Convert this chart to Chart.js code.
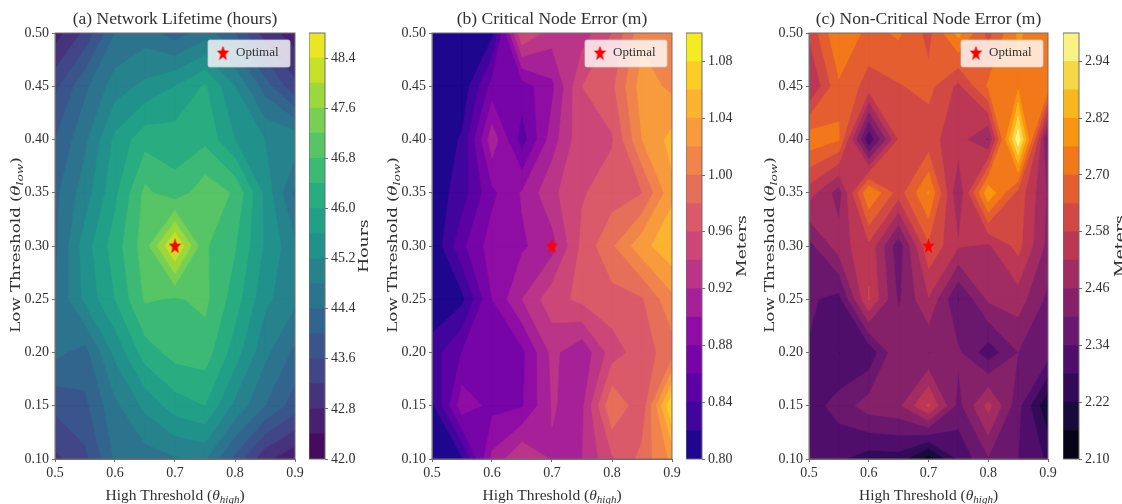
<!DOCTYPE html>
<html>
<head>
<meta charset="utf-8">
<title>Threshold sensitivity</title>
<script src="https://cdn.jsdelivr.net/npm/chart.js@4/dist/chart.umd.min.js"></script>
<style>
  html, body { margin: 0; padding: 0; background: #fff; }
  #page { position: relative; width: 1122px; height: 504px; overflow: hidden; }
  canvas { position: absolute; top: 0; filter: blur(0.5px); }
</style>
</head>
<body>
<div id="page"></div>
<script>
// ---------- Data ----------
const thresholdHigh = [0.5, 0.55, 0.6, 0.65, 0.7, 0.75, 0.8, 0.85, 0.9];
const thresholdLow = [0.5, 0.45, 0.4, 0.35, 0.3, 0.25, 0.2, 0.15, 0.1];

const lifetimeHours = [
  [42.6, 43.3, 44.4, 44.6, 44.2, 44.6, 44.0, 43.0, 42.6],
  [43.5, 44.3, 45.0, 45.3, 45.6, 46.05, 45.2, 44.2, 43.3],
  [44.0, 44.7, 45.7, 46.25, 46.2, 46.3, 45.6, 45.2, 45.1],
  [44.3, 45.0, 45.9, 46.9, 46.55, 47.05, 46.75, 45.5, 44.3],
  [44.3, 45.4, 46.2, 47.0, 48.5, 46.85, 46.43, 45.55, 44.9],
  [44.4, 45.3, 46.0, 46.85, 46.75, 46.9, 46.2, 45.3, 44.9],
  [44.5, 44.25, 45.3, 46.2, 46.55, 46.6, 45.8, 44.9, 44.3],
  [43.7, 43.9, 44.7, 45.3, 45.8, 46.0, 45.1, 44.4, 43.8],
  [43.1, 43.5, 44.45, 44.6, 44.75, 44.85, 43.9, 42.9, 42.5]
];
const criticalError = [
  [0.803, 0.805, 0.815, 0.96, 0.93, 0.93, 0.96, 1.015, 1.01],
  [0.801, 0.805, 0.868, 0.87, 0.895, 0.96, 0.975, 1.03, 1.015],
  [0.801, 0.823, 0.913, 0.85, 0.91, 0.955, 0.958, 1.02, 1.047],
  [0.807, 0.83, 0.875, 0.902, 0.935, 0.958, 0.97, 0.979, 1.035],
  [0.802, 0.855, 0.89, 0.897, 0.912, 0.965, 0.997, 1.033, 1.055],
  [0.802, 0.815, 0.88, 0.92, 0.952, 0.965, 0.972, 0.978, 1.015],
  [0.83, 0.861, 0.86, 0.875, 0.925, 0.905, 0.95, 0.971, 0.99],
  [0.815, 0.892, 0.874, 0.878, 0.921, 0.915, 0.998, 0.965, 1.08],
  [0.805, 0.818, 0.905, 0.94, 0.9185, 0.92, 0.957, 0.987, 1.025]
];
const nonCriticalError = [
  [2.59, 2.76, 2.68, 2.71, 2.62, 2.78, 2.62, 2.77, 2.71],
  [2.51, 2.69, 2.615, 2.635, 2.66, 2.565, 2.71, 2.745, 2.74],
  [2.74, 2.705, 2.285, 2.585, 2.60, 2.547, 2.45, 2.985, 2.37],
  [2.55, 2.43, 2.762, 2.61, 2.765, 2.465, 2.81, 2.62, 2.45],
  [2.38, 2.49, 2.565, 2.36, 2.63, 2.525, 2.51, 2.60, 2.44],
  [2.35, 2.32, 2.585, 2.39, 2.515, 2.335, 2.47, 2.49, 2.385],
  [2.335, 2.279, 2.295, 2.455, 2.399, 2.41, 2.305, 2.40, 2.37],
  [2.31, 2.365, 2.43, 2.445, 2.59, 2.38, 2.54, 2.36, 2.17],
  [2.345, 2.29, 2.25, 2.255, 2.13, 2.29, 2.395, 2.34, 2.27]
];

const lifetimeLevels = [42.0, 42.4, 42.8, 43.2, 43.6, 44.0, 44.4, 44.8, 45.2, 45.6, 46.0, 46.4, 46.8, 47.2, 47.6, 48.0, 48.4, 48.8];
const criticalLevels = [0.80, 0.82, 0.84, 0.86, 0.88, 0.90, 0.92, 0.94, 0.96, 0.98, 1.00, 1.02, 1.04, 1.06, 1.08, 1.10];
const nonCriticalLevels = [2.10, 2.16, 2.22, 2.28, 2.34, 2.40, 2.46, 2.52, 2.58, 2.64, 2.70, 2.76, 2.82, 2.88, 2.94, 3.00];

const lifetimeTicks = [42.0, 42.8, 43.6, 44.4, 45.2, 46.0, 46.8, 47.6, 48.4];
const criticalTicks = [0.80, 0.84, 0.88, 0.92, 0.96, 1.00, 1.04, 1.08];
const nonCriticalTicks = [2.10, 2.22, 2.34, 2.46, 2.58, 2.70, 2.82, 2.94];

const xTicks = [0.5, 0.6, 0.7, 0.8, 0.9];
const yTicks = [0.1, 0.15, 0.2, 0.25, 0.3, 0.35, 0.4, 0.45, 0.5];
const optimalHigh = [0.7];
const optimalLow = [0.3];

// ---------- Colormaps (11 stops each) ----------
const viridis = ["#440154", "#482475", "#414487", "#355f8d", "#2a788e", "#21918c", "#22a884", "#44bf70", "#7ad151", "#bddf26", "#fde725"];
const plasma = ["#0d0887", "#41049d", "#6a00a8", "#8f0da4", "#b12a90", "#cc4778", "#e16462", "#f1844b", "#fca636", "#fcce25", "#f0f921"];
const inferno = ["#000004", "#160b39", "#420a68", "#6a176e", "#932667", "#bc3754", "#dd513a", "#f37819", "#fca50a", "#f6d746", "#fcffa4"];

function sampleMap(stops, t) {
  const p = Math.min(t, 0.9999) * (stops.length - 1);
  const i = Math.floor(p), f = p - i;
  const rgb = (h) => [1, 3, 5].map(k => parseInt(h.substr(k, 2), 16));
  const a = rgb(stops[i]), b = rgb(stops[i + 1]);
  return `rgb(${a.map((v, k) => Math.round(v + (b[k] - v) * f)).join(",")})`;
}
function bandColors(stops, levels) {
  const n = levels.length - 1;
  return levels.slice(0, n).map((_, k) => sampleMap(stops, (k + 0.5) / n));
}

// ---------- Fonts ----------
const SERIF = "'Liberation Serif'";
const WIDE = "'DejaVu Serif'";
const INK = "#303030";
const SPINE = "#6f6f6f";

// ---------- Star marker ----------
function makeStar(w, h) {
  const c = document.createElement("canvas");
  c.width = w; c.height = h;
  const ctx = c.getContext("2d");
  ctx.fillStyle = "#ff0000";
  ctx.beginPath();
  for (let i = 0; i < 10; i++) {
    const r = i % 2 ? 0.42 : 1;
    const a = -Math.PI / 2 + i * Math.PI / 5;
    const px = w / 2 + Math.cos(a) * r * w / 2;
    const py = h * 0.53 + Math.sin(a) * r * h * 0.53;
    if (i === 0) ctx.moveTo(px, py); else ctx.lineTo(px, py);
  }
  ctx.closePath();
  ctx.fill();
  return c;
}

// ---------- Filled contours, one region z >= level at a time ----------
function addRegion(ctx, chart, z, level) {
  const sx = chart.scales.x, sy = chart.scales.y;
  const poly = (pts) => {
    pts.forEach((p, i) => {
      const px = sx.getPixelForValue(p[0]), py = sy.getPixelForValue(p[1]);
      if (i === 0) ctx.moveTo(px, py); else ctx.lineTo(px, py);
    });
    ctx.closePath();
  };
  for (let r = 0; r < thresholdLow.length - 1; r++) {
    for (let c = 0; c < thresholdHigh.length - 1; c++) {
      const q = [[c, r], [c + 1, r], [c + 1, r + 1], [c, r + 1]].map(([i, j]) => ({
        x: thresholdHigh[i], y: thresholdLow[j], v: z[j][i]
      }));
      const high = q.map(p => p.v >= level);
      const count = high.filter(Boolean).length;
      if (count === 0) continue;
      const cross = (a, b) => {
        const t = (level - a.v) / (b.v - a.v);
        return [a.x + (b.x - a.x) * t, a.y + (b.y - a.y) * t];
      };
      const mid = (q[0].v + q[1].v + q[2].v + q[3].v) / 4;
      const saddle = count === 2 && high[0] === high[2];
      if (saddle && mid < level) {
        // two separate corners
        q.forEach((p, k) => {
          if (!high[k]) return;
          poly([cross(q[(k + 3) % 4], p), [p.x, p.y], cross(p, q[(k + 1) % 4])]);
        });
        continue;
      }
      const pts = [];
      q.forEach((p, k) => {
        const next = q[(k + 1) % 4];
        if (high[k]) pts.push([p.x, p.y]);
        if (high[k] !== high[(k + 1) % 4]) pts.push(cross(p, next));
      });
      poly(pts);
    }
  }
}

// ---------- Small text helper (math subscripts), stretch along the text ----------
function drawParts(ctx, parts, cx, cy, rotation, stretch) {
  ctx.save();
  ctx.translate(cx, cy);
  ctx.rotate(rotation || 0);
  ctx.scale(stretch || 1, 1);
  ctx.fillStyle = INK;
  ctx.textBaseline = "alphabetic";
  ctx.textAlign = "left";
  let total = 0;
  parts.forEach(p => { ctx.font = p.font; total += ctx.measureText(p.text).width; });
  let x = -total / 2;
  parts.forEach(p => {
    ctx.font = p.font;
    ctx.fillText(p.text, x, p.dy || 0);
    x += ctx.measureText(p.text).width;
  });
  ctx.restore();
}

function addCanvas(left, width) {
  const c = document.createElement("canvas");
  c.width = width; c.height = 504;
  c.style.left = left + "px";
  c.style.width = width + "px";
  c.style.height = "504px";
  document.getElementById("page").appendChild(c);
  return c;
}

const axisFont = { family: SERIF, size: 14 };

// ---------- Main contour panel ----------
function renderPanel(title, z, levels, stops, plotLeft, plotWidth) {
  const colors = bandColors(stops, levels);
  const star = makeStar(13, 16);
  const canvas = addCanvas(plotLeft - 55, 55 + plotWidth + 12);

  const contourPlugin = {
    id: "contours",
    afterLayout(chart) {
      const a = chart.chartArea;
      chart.legend.left = a.right - 78.5;
      chart.legend.top = a.top + 13.5;
      chart.titleBlock.left = a.left;
      chart.titleBlock.right = a.right;
    },
    beforeDraw(chart) {
      const ctx = chart.ctx, a = chart.chartArea;
      ctx.save();
      ctx.beginPath();
      ctx.rect(a.left, a.top, a.width, a.height);
      ctx.clip();
      ctx.lineWidth = 0.5;
      ctx.lineJoin = "round";
      colors.forEach((col, k) => {
        ctx.beginPath();
        addRegion(ctx, chart, z, levels[k]);
        ctx.fillStyle = col;
        ctx.strokeStyle = col;
        ctx.fill();
        ctx.stroke();
      });
      // legend frame
      ctx.beginPath();
      ctx.roundRect(a.right - 87, a.top + 7, 82, 27, 2);
      ctx.fillStyle = "rgba(255,255,255,0.8)";
      ctx.fill();
      ctx.strokeStyle = "rgba(204,204,204,0.8)";
      ctx.lineWidth = 1;
      ctx.stroke();
      ctx.restore();
    },
    afterDraw(chart) {
      const ctx = chart.ctx, a = chart.chartArea;
      ctx.strokeStyle = SPINE;
      ctx.lineWidth = 1;
      ctx.strokeRect(a.left, a.top, a.width, a.height);
      const cx = (a.left + a.right) / 2;
      drawParts(ctx, [
        { text: "High Threshold (", font: `15.5px ${SERIF}` },
        { text: "θ", font: `italic 15.5px ${SERIF}` },
        { text: "high", font: `italic 11px ${SERIF}`, dy: 3 },
        { text: ")", font: `15.5px ${SERIF}` }
      ], cx, 500);
      drawParts(ctx, [
        { text: "Low Threshold (", font: `13px ${WIDE}` },
        { text: "θ", font: `italic 13px ${WIDE}` },
        { text: "low", font: `italic 9.5px ${WIDE}`, dy: 3 },
        { text: ")", font: `13px ${WIDE}` }
      ], 20, 245, -Math.PI / 2, 1.28);
    }
  };

  new Chart(canvas.getContext("2d"), {
    type: "scatter",
    data: {
      datasets: [{
        label: "Optimal",
        data: optimalHigh.map((x, i) => ({ x, y: optimalLow[i] })),
        pointStyle: star,
        pointRadius: 7,
        backgroundColor: "#ff0000",
        borderColor: "#ff0000"
      }]
    },
    options: {
      responsive: false,
      animation: false,
      layout: { padding: { top: 0, left: 0, right: 12, bottom: 0 } },
      plugins: {
        tooltip: { enabled: false },
        title: {
          display: true,
          text: title,
          color: INK,
          font: { family: SERIF, size: 17.5, weight: "normal" },
          padding: { top: 9, bottom: 3 }
        },
        legend: {
          position: "chartArea",
          align: "start",
          labels: {
            usePointStyle: true,
            boxWidth: 13,
            boxHeight: 13,
            padding: 0,
            color: INK,
            font: { family: SERIF, size: 13 }
          }
        }
      },
      scales: {
        x: {
          type: "linear",
          min: 0.5,
          max: 0.9,
          afterFit: (s) => { s.height = 45; },
          afterBuildTicks: (s) => { s.ticks = xTicks.map(value => ({ value })); },
          border: { color: SPINE },
          grid: { drawOnChartArea: false, tickLength: 3, color: SPINE },
          ticks: { color: INK, font: axisFont, padding: 3, maxRotation: 0, callback: (v) => v.toFixed(1) }
        },
        y: {
          type: "linear",
          min: 0.1,
          max: 0.5,
          afterFit: (s) => { s.width = 55; },
          afterBuildTicks: (s) => { s.ticks = yTicks.map(value => ({ value })); },
          border: { color: SPINE },
          grid: { drawOnChartArea: false, tickLength: 3, color: SPINE },
          ticks: { color: INK, font: axisFont, padding: 3, callback: (v) => v.toFixed(2) }
        }
      }
    },
    plugins: [contourPlugin]
  });
}

// ---------- Colorbar as floating bars ----------
function renderColorbar(label, levels, ticks, digits, stops, barLeft, labelX) {
  const colors = bandColors(stops, levels);
  const barWidth = 16;
  const canvas = addCanvas(barLeft, 1122 - barLeft < 70 ? 1122 - barLeft : 70);

  const framePlugin = {
    id: "frame",
    afterDraw(chart) {
      const ctx = chart.ctx, a = chart.chartArea;
      ctx.strokeStyle = SPINE;
      ctx.lineWidth = 1;
      ctx.strokeRect(a.left, a.top, a.width, a.height);
      drawParts(ctx, [{ text: label, font: `13px ${WIDE}` }], labelX - barLeft + 5, 246, -Math.PI / 2, 1.32);
    }
  };

  new Chart(canvas.getContext("2d"), {
    type: "bar",
    data: {
      labels: [label],
      datasets: colors.map((col, k) => ({
        label: levels[k].toFixed(digits),
        data: [[levels[k], levels[k + 1]]],
        backgroundColor: col,
        borderWidth: 0,
        grouped: false,
        barPercentage: 1,
        categoryPercentage: 1
      }))
    },
    options: {
      responsive: false,
      animation: false,
      layout: { padding: { top: 33, bottom: 45, left: 0, right: 0 } },
      plugins: { legend: { display: false }, tooltip: { enabled: false } },
      scales: {
        x: { display: false },
        y: {
          position: "right",
          min: levels[0],
          max: levels[levels.length - 1],
          afterFit: (s) => { s.width = canvas.width - barWidth; },
          afterBuildTicks: (s) => { s.ticks = ticks.map(value => ({ value })); },
          border: { display: false },
          grid: { drawOnChartArea: false, tickLength: 3, color: SPINE },
          ticks: { color: INK, font: axisFont, padding: 3, callback: (v) => v.toFixed(digits) }
        }
      }
    },
    plugins: [framePlugin]
  });
}

// ---------- Build ----------
renderPanel("(a) Network Lifetime (hours)", lifetimeHours, lifetimeLevels, viridis, 55, 240);
renderColorbar("Hours", lifetimeLevels, lifetimeTicks, 1, viridis, 309, 363);
renderPanel("(b) Critical Node Error (m)", criticalError, criticalLevels, plasma, 432, 240);
renderColorbar("Meters", criticalLevels, criticalTicks, 2, plasma, 686, 741);
renderPanel("(c) Non-Critical Node Error (m)", nonCriticalError, nonCriticalLevels, inferno, 809, 239);
renderColorbar("Meters", nonCriticalLevels, nonCriticalTicks, 2, inferno, 1063, 1119);
</script>
</body>
</html>
